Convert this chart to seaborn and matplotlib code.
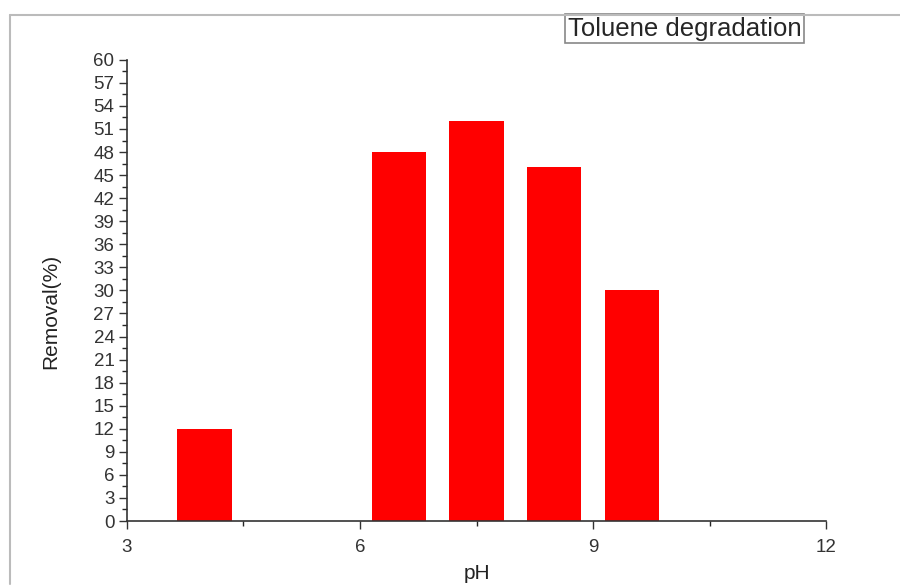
import matplotlib
matplotlib.use("Agg")
import matplotlib.pyplot as plt
from matplotlib.ticker import MultipleLocator
import seaborn as sns
import pandas as pd

# values
ph = [4.0, 6.5, 7.5, 8.5, 9.5]
removal = [12, 48, 52, 46, 30]
series_label = "Toluene degradation"

df = pd.DataFrame({"pH": ph, "Removal": removal})

sns.set_style("ticks")
plt.rcParams["font.family"] = ["Liberation Sans", "DejaVu Sans"]

fig = plt.figure(figsize=(9, 5.87), dpi=100)
ax = fig.add_axes([0.141, 0.1124, 0.777, 0.7857])

sns.barplot(data=df, x="pH", y="Removal", native_scale=True, width=0.7,
            color="#ff0000", saturation=1, edgecolor="#ff0000", linewidth=0,
            label=series_label, ax=ax)

ax.set_xlim(3, 12)
ax.set_ylim(0, 60)
ax.xaxis.set_major_locator(MultipleLocator(3))
ax.xaxis.set_minor_locator(MultipleLocator(1.5))
ax.yaxis.set_major_locator(MultipleLocator(3))
ax.yaxis.set_minor_locator(MultipleLocator(1.5))
ax.tick_params(axis="both", which="major", direction="out", length=6,
               width=1, labelsize=13.5, colors="#333333")
ax.tick_params(axis="x", which="major", pad=7)
ax.tick_params(axis="y", which="major", pad=3)
ax.tick_params(axis="both", which="minor", direction="out", length=3.5, width=1)
for s in ["top", "right"]:
    ax.spines[s].set_visible(False)
for s in ["left", "bottom"]:
    ax.spines[s].set_color("#333333")
    ax.spines[s].set_linewidth(1.2)

ax.set_xlabel("pH", fontsize=15, color="#222222", labelpad=6)
ax.set_ylabel("Removal(%)", fontsize=15, color="#222222", labelpad=14)
ax.yaxis.set_label_coords(-0.095, 0.455)

leg = ax.legend(loc="upper left", bbox_to_anchor=(565 / 900, 1 - 14 / 587),
                bbox_transform=fig.transFigure, handlelength=0, handletextpad=0,
                fancybox=False, fontsize=18.5, borderpad=0.1, borderaxespad=0,
                framealpha=1)
leg.get_frame().set_edgecolor("#888888")
leg.get_frame().set_linewidth(1.2)
for h in leg.legend_handles:
    h.set_visible(False)

# thin grey frame of the original figure (left, top)
fig.add_artist(plt.Line2D([10 / 900, 10 / 900], [0.005, 1 - 15 / 587],
                          transform=fig.transFigure, color="#bbbbbb", lw=1.5))
fig.add_artist(plt.Line2D([10 / 900, 1.0], [1 - 15 / 587, 1 - 15 / 587],
                          transform=fig.transFigure, color="#bbbbbb", lw=1.5))

fig.savefig("out.png", dpi=100)
